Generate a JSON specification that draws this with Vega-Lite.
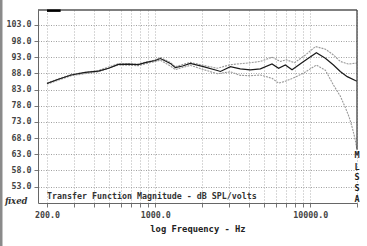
{
  "$schema": "https://vega.github.io/schema/vega-lite/v6.json",
  "width": 319,
  "height": 193,
  "autosize": "none",
  "padding": {"left": 38, "top": 10, "right": 10, "bottom": 43},
  "background": "white",
  "config": {"view": {"stroke": null}},
  "datasets": {
    "curves": [
      {"s": "avg", "f": 200, "db": 84.9}, {"s": "avg", "f": 237, "db": 86.2}, {"s": "avg", "f": 287, "db": 87.5},
      {"s": "avg", "f": 353, "db": 88.3}, {"s": "avg", "f": 429, "db": 88.7}, {"s": "avg", "f": 500, "db": 89.6},
      {"s": "avg", "f": 577, "db": 90.8}, {"s": "avg", "f": 670, "db": 90.9}, {"s": "avg", "f": 777, "db": 90.7},
      {"s": "avg", "f": 875, "db": 91.4}, {"s": "avg", "f": 1000, "db": 92.0}, {"s": "avg", "f": 1077, "db": 92.6},
      {"s": "avg", "f": 1250, "db": 91.1}, {"s": "avg", "f": 1346, "db": 89.8}, {"s": "avg", "f": 1500, "db": 90.3},
      {"s": "avg", "f": 1680, "db": 91.1}, {"s": "avg", "f": 2040, "db": 90.1}, {"s": "avg", "f": 2510, "db": 88.9},
      {"s": "avg", "f": 2630, "db": 88.6}, {"s": "avg", "f": 3050, "db": 90.1}, {"s": "avg", "f": 3530, "db": 89.4},
      {"s": "avg", "f": 4100, "db": 89.1}, {"s": "avg", "f": 4760, "db": 89.4}, {"s": "avg", "f": 5660, "db": 90.9},
      {"s": "avg", "f": 6240, "db": 89.6}, {"s": "avg", "f": 6900, "db": 90.6}, {"s": "avg", "f": 7620, "db": 89.1},
      {"s": "avg", "f": 9050, "db": 91.7}, {"s": "avg", "f": 10940, "db": 94.4}, {"s": "avg", "f": 12500, "db": 92.7},
      {"s": "avg", "f": 14100, "db": 90.6}, {"s": "avg", "f": 15600, "db": 88.6}, {"s": "avg", "f": 17300, "db": 87.0},
      {"s": "avg", "f": 19500, "db": 85.8}, {"s": "avg", "f": 20000, "db": 85.6},

      {"s": "hi", "f": 200, "db": 85.1}, {"s": "hi", "f": 287, "db": 87.7}, {"s": "hi", "f": 429, "db": 88.9},
      {"s": "hi", "f": 577, "db": 91.0}, {"s": "hi", "f": 777, "db": 90.9}, {"s": "hi", "f": 1000, "db": 92.2},
      {"s": "hi", "f": 1077, "db": 92.9}, {"s": "hi", "f": 1250, "db": 91.4}, {"s": "hi", "f": 1346, "db": 90.1},
      {"s": "hi", "f": 1680, "db": 91.4}, {"s": "hi", "f": 2040, "db": 90.5}, {"s": "hi", "f": 2510, "db": 89.6},
      {"s": "hi", "f": 3050, "db": 90.7}, {"s": "hi", "f": 3530, "db": 91.0}, {"s": "hi", "f": 4100, "db": 91.3},
      {"s": "hi", "f": 4760, "db": 91.7}, {"s": "hi", "f": 5660, "db": 93.0}, {"s": "hi", "f": 6400, "db": 91.7},
      {"s": "hi", "f": 7000, "db": 92.2}, {"s": "hi", "f": 7900, "db": 91.3}, {"s": "hi", "f": 9300, "db": 93.7},
      {"s": "hi", "f": 10800, "db": 96.3}, {"s": "hi", "f": 12500, "db": 95.5}, {"s": "hi", "f": 14100, "db": 93.7},
      {"s": "hi", "f": 15600, "db": 91.7}, {"s": "hi", "f": 17600, "db": 90.9}, {"s": "hi", "f": 20000, "db": 91.2},

      {"s": "lo", "f": 200, "db": 84.7}, {"s": "lo", "f": 287, "db": 87.3}, {"s": "lo", "f": 429, "db": 88.5},
      {"s": "lo", "f": 577, "db": 90.6}, {"s": "lo", "f": 777, "db": 90.4}, {"s": "lo", "f": 1000, "db": 91.7},
      {"s": "lo", "f": 1077, "db": 92.1}, {"s": "lo", "f": 1250, "db": 90.3}, {"s": "lo", "f": 1346, "db": 89.2},
      {"s": "lo", "f": 1680, "db": 90.5}, {"s": "lo", "f": 2040, "db": 89.2}, {"s": "lo", "f": 2510, "db": 87.9},
      {"s": "lo", "f": 3050, "db": 88.5}, {"s": "lo", "f": 3530, "db": 87.4}, {"s": "lo", "f": 4100, "db": 87.3},
      {"s": "lo", "f": 4760, "db": 87.5}, {"s": "lo", "f": 5660, "db": 86.5}, {"s": "lo", "f": 6240, "db": 85.0},
      {"s": "lo", "f": 6900, "db": 85.6}, {"s": "lo", "f": 7620, "db": 86.4}, {"s": "lo", "f": 9050, "db": 88.1},
      {"s": "lo", "f": 10940, "db": 90.6}, {"s": "lo", "f": 12500, "db": 89.0}, {"s": "lo", "f": 14100, "db": 84.4},
      {"s": "lo", "f": 15600, "db": 81.0}, {"s": "lo", "f": 16800, "db": 77.5}, {"s": "lo", "f": 17800, "db": 74.5},
      {"s": "lo", "f": 18700, "db": 71.0}, {"s": "lo", "f": 19500, "db": 67.4}, {"s": "lo", "f": 20000, "db": 64.3}
    ]
  },
  "layer": [
    {
      "data": {"name": "curves"},
      "transform": [{"filter": "datum.s != 'avg'"}],
      "mark": {"type": "line", "color": "#9a9a9a", "strokeWidth": 1.1, "strokeDash": [2, 1]},
      "encoding": {
        "x": {
          "field": "f", "type": "quantitative",
          "scale": {"type": "log", "domain": [175, 20000], "nice": false, "zero": false},
          "axis": {
            "values": [200, 300, 400, 500, 600, 700, 800, 900, 1000, 2000, 3000, 4000, 5000, 6000, 7000, 8000, 9000, 10000, 20000],
            "tickCount": 40,
            "labelExpr": "indexof([200, 1000, 10000], datum.value) >= 0 ? format(datum.value, '.1f') : ''",
            "grid": true, "gridColor": "#b0b0b0", "gridDash": [1, 2], "gridWidth": 1,
            "domainColor": "#666", "domainWidth": 1,
            "tickColor": "#777", "tickSize": 4, "labelPadding": 3,
            "labelFont": "DejaVu Sans Mono", "labelFontSize": 8.3, "labelFontWeight": "bold", "labelColor": "#444",
            "labelOverlap": false, "labelFlush": false,
            "title": "log Frequency - Hz", "titleFont": "DejaVu Sans Mono", "titleFontSize": 8.8,
            "titleFontWeight": "bold", "titleColor": "#222", "titlePadding": 6
          }
        },
        "y": {
          "field": "db", "type": "quantitative",
          "scale": {"domain": [47.95, 107.6], "nice": false, "zero": false},
          "axis": {
            "values": [53, 58, 63, 68, 73, 78, 83, 88, 93, 98, 103],
            "tickCount": 40,
            "format": ".1f",
            "labelOverlap": false,
            "grid": true, "gridColor": "#a0a0a0", "gridDash": [1, 1.5], "gridWidth": 1,
            "domainColor": "#666", "domainWidth": 1,
            "tickColor": "#777", "tickSize": 4, "labelPadding": 3,
            "labelFont": "DejaVu Sans Mono", "labelFontSize": 8.3, "labelFontWeight": "bold", "labelColor": "#444",
            "title": null
          }
        },
        "detail": {"field": "s"}
      }
    },
    {
      "data": {"name": "curves"},
      "transform": [{"filter": "datum.s == 'avg'"}],
      "mark": {"type": "line", "color": "#1a1a1a", "strokeWidth": 1.2},
      "encoding": {
        "x": {"field": "f", "type": "quantitative"},
        "y": {"field": "db", "type": "quantitative"}
      }
    },
    {
      "data": {"values": [
        {"f1": 175, "f2": 20000, "v1": 107.6}
      ]},
      "mark": {"type": "rule", "color": "#555", "strokeWidth": 1.5},
      "encoding": {
        "x": {"field": "f1", "type": "quantitative"},
        "x2": {"field": "f2"},
        "y": {"field": "v1", "type": "quantitative"}
      }
    },
    {
      "data": {"values": [{"f": 20000, "v1": 64.5, "v2": 107.6}]},
      "mark": {"type": "rule", "color": "#444", "strokeWidth": 1.3},
      "encoding": {
        "x": {"field": "f", "type": "quantitative"},
        "y": {"field": "v1", "type": "quantitative"},
        "y2": {"field": "v2"}
      }
    },
    {
      "data": {"values": [{"f1": 200, "f2": 245, "v": 107.4}]},
      "mark": {"type": "rule", "color": "#000", "strokeWidth": 2.5},
      "encoding": {
        "x": {"field": "f1", "type": "quantitative"},
        "x2": {"field": "f2"},
        "y": {"field": "v", "type": "quantitative"}
      }
    },
    {
      "data": {"values": [{"f": 101, "v1": 33, "v2": 112}]},
      "mark": {"type": "rule", "color": "#8a8a8a", "strokeWidth": 3},
      "encoding": {
        "x": {"field": "f", "type": "quantitative"},
        "y": {"field": "v1", "type": "quantitative"},
        "y2": {"field": "v2"}
      }
    },
    {
      "data": {"values": [{"t": "Transfer Function Magnitude - dB SPL/volts", "f": 200, "v": 49.9}]},
      "mark": {"type": "text", "align": "left", "baseline": "middle", "font": "DejaVu Sans Mono", "fontSize": 8.3, "fontWeight": "bold", "color": "#333"},
      "encoding": {
        "x": {"field": "f", "type": "quantitative"},
        "y": {"field": "v", "type": "quantitative"},
        "text": {"field": "t"}
      }
    },
    {
      "data": {"values": [{"t": "fixed", "f": 107, "v": 48.7}]},
      "mark": {"type": "text", "align": "left", "baseline": "middle", "font": "DejaVu Serif", "fontSize": 8.5, "fontStyle": "italic", "fontWeight": "bold", "color": "#333"},
      "encoding": {
        "x": {"field": "f", "type": "quantitative"},
        "y": {"field": "v", "type": "quantitative"},
        "text": {"field": "t"}
      }
    },
    {
      "data": {"values": [
        {"t": "M", "f": 20000, "v": 62.8},
        {"t": "L", "f": 20000, "v": 59.2},
        {"t": "S", "f": 20000, "v": 55.9},
        {"t": "S", "f": 20000, "v": 52.5},
        {"t": "A", "f": 20000, "v": 49.2}
      ]},
      "mark": {"type": "text", "align": "center", "baseline": "middle", "font": "DejaVu Sans Mono", "fontSize": 8.5, "fontWeight": "bold", "color": "#222"},
      "encoding": {
        "x": {"field": "f", "type": "quantitative"},
        "y": {"field": "v", "type": "quantitative"},
        "text": {"field": "t"}
      }
    }
  ]
}
